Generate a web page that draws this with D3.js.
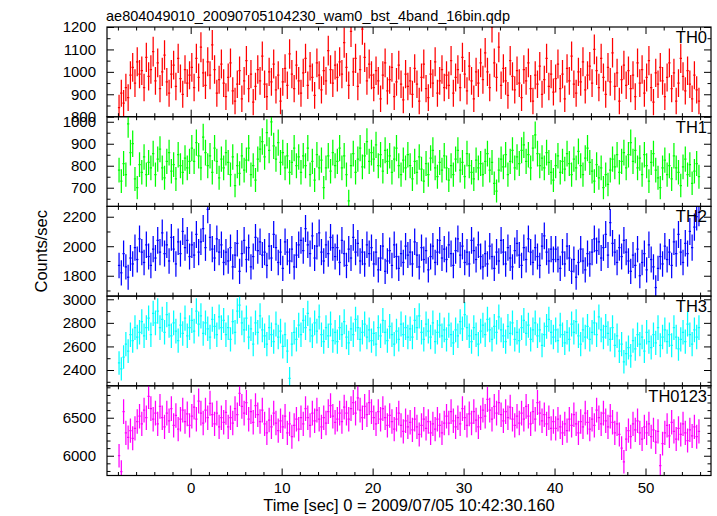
<!DOCTYPE html>
<html><head><meta charset="utf-8">
<script src="https://cdn.jsdelivr.net/npm/d3@7"></script>
<style>
body{margin:0;background:#fff;}
svg{display:block;}
text{font-family:"Liberation Sans",Arial,Helvetica,sans-serif;fill:#000;}
</style></head><body>
<svg id="chart" width="717" height="516"></svg>
<script>
// ---- data (0.25 s bins, starting at t = -8 s) ----
const binSize = 0.25;
const tStart = -8;
const th0 = [
840,905,860,930,885,985,1020,950,1045,990,1005,930,1065,980,1010,1090,
960,1040,925,1000,1075,955,905,990,1030,935,1060,970,900,1010,950,985,
1020,930,1060,975,1110,995,940,1045,985,1120,1010,905,965,1035,950,890,
975,1040,915,870,945,1005,880,960,1050,925,990,865,935,1010,960,1070,
945,890,1000,955,1035,920,985,870,955,1015,940,1080,990,925,1030,960,
905,995,1060,940,1025,975,895,1040,985,920,1005,960,1095,1010,950,1030,
975,1045,990,1130,1020,940,1180,1000,1060,935,1010,1190,1065,960,1035,985,
930,1005,960,880,985,1040,915,965,1020,890,955,1030,945,875,990,935,
960,900,1015,945,870,975,1035,925,885,990,950,1045,905,960,1010,930,
985,940,1050,905,975,1010,930,1065,990,915,1025,960,880,1000,950,1040,
965,1085,1000,930,1200,1040,975,1110,940,1015,960,895,1050,980,920,1005,
950,885,1010,960,1040,925,870,985,945,1025,900,965,1060,935,990,910,
970,1035,925,990,880,1015,960,1070,945,905,1000,955,1045,920,985,1025,
950,1100,1005,930,1060,975,900,1020,955,1085,935,995,870,965,1030,940,
1005,925,985,890,1040,950,1010,905,975,1050,930,865,995,945,1020,960,
890,975,1040,925,995,870,950,1060,980,915,1005,945,880,985,920,870];
const th1 = [
780,730,810,760,990,860,900,740,700,805,770,840,760,815,790,855,
760,830,875,790,745,820,860,775,805,740,850,800,770,835,790,820,
880,820,905,845,790,930,860,800,845,770,880,820,745,830,790,860,
815,760,840,710,800,765,845,780,825,880,760,800,735,830,875,910,
840,950,870,1000,890,830,905,815,860,790,845,770,815,880,800,840,
770,845,800,880,760,820,735,850,790,825,700,790,845,775,860,800,
820,880,790,845,760,640,800,855,770,830,880,795,845,910,820,860,
830,895,800,850,775,870,820,845,770,830,880,800,760,825,790,850,
800,740,820,770,840,785,730,810,760,835,870,790,750,815,780,845,
790,735,800,760,830,870,780,815,750,855,800,770,740,825,790,810,
760,820,855,780,815,720,685,780,830,795,850,760,820,870,790,840,
810,870,895,820,850,790,880,940,855,800,835,790,860,815,770,735,
800,845,770,820,785,855,810,760,830,790,865,800,760,835,880,815,
775,730,805,745,790,700,760,715,780,830,795,850,770,820,860,790,
850,905,820,870,790,835,760,850,800,730,815,855,780,745,700,790,
825,760,800,740,845,790,770,710,795,830,760,805,720,775,810,750];
const th2 = [
1870,1820,1950,1860,1790,1920,1880,1990,1910,2050,1960,1890,2010,1930,1870,1980,
1920,2040,1960,2090,1950,2010,1900,2060,1980,1880,2030,1950,2100,1990,2040,1930,
2010,1940,2080,1960,2030,2120,1990,2250,2060,1980,1920,2050,1960,2010,1890,1960,
1900,1990,1860,1940,2020,1830,1950,2040,1910,1990,1860,1930,2060,1970,2030,1940,
1960,1870,2000,1920,2080,1990,1890,1960,1850,2030,1960,1900,1980,1860,1940,2010,
2040,1970,2120,2010,1950,2070,1920,2000,2090,1960,1900,2010,1950,2060,1990,1930,
1990,1890,2040,1950,1870,1980,1920,2060,1960,2020,1900,1960,1880,2010,1950,1990,
1880,1960,1840,1920,2000,1830,1900,1970,1870,2010,1930,1850,1950,1890,2000,1940,
1960,1880,2030,1940,1860,1990,1910,1970,1840,1930,2000,1890,1960,2040,1920,1980,
1910,2010,1950,1870,1970,2050,1940,2000,1890,1960,1880,2040,1970,1910,2010,1930,
1860,1950,1880,2000,1930,1850,1960,1900,2040,1960,1880,1990,1920,1860,1970,2020,
1940,1870,1990,1910,2050,1960,1890,1990,1930,1870,2000,2070,1960,1900,1980,1910,
1980,1910,1850,1960,1880,2000,1920,1830,1910,1790,1890,1980,1900,1840,1950,1880,
1960,2050,1970,2030,1920,1990,2080,1940,2160,2020,1960,1890,1990,1930,2040,1960,
1900,1830,1940,1870,1980,1800,1890,1950,1840,2010,1910,1860,1720,1850,1930,1880,
2000,1910,1960,1870,2030,1950,2080,1960,1890,2020,1950,2100,1990,2130,2200,2230];
const th3 = [
2460,2410,2510,2620,2560,2700,2650,2760,2680,2720,2810,2690,2760,2840,2700,2880,
2800,2900,2760,2830,2720,2870,2780,2690,2800,2730,2650,2780,2710,2840,2690,2760,
2820,2730,2900,2790,2860,2710,2800,2750,2680,2830,2770,2700,2850,2760,2820,2700,
2760,2660,2810,2720,2900,2950,2800,2740,2840,2680,2750,2620,2800,2720,2860,2740,
2690,2620,2760,2700,2640,2790,2680,2730,2600,2700,2560,2330,2620,2720,2660,2780,
2700,2820,2760,2880,2740,2690,2800,2730,2850,2700,2640,2760,2690,2790,2650,2720,
2640,2760,2700,2810,2680,2630,2750,2700,2830,2760,2660,2720,2790,2680,2740,2650,
2710,2620,2760,2690,2820,2720,2650,2770,2700,2620,2730,2660,2790,2700,2760,2680,
2750,2680,2820,2760,2860,2720,2660,2790,2730,2680,2800,2640,2720,2780,2690,2740,
2660,2780,2700,2630,2740,2690,2810,2750,2870,2760,2690,2640,2760,2700,2620,2730,
2780,2700,2830,2740,2660,2770,2720,2850,2740,2690,2640,2770,2710,2800,2660,2720,
2650,2760,2820,2710,2780,2660,2740,2800,2690,2740,2610,2700,2770,2830,2720,2680,
2740,2650,2780,2700,2630,2720,2660,2790,2720,2810,2690,2620,2740,2680,2770,2660,
2720,2800,2700,2850,2740,2680,2770,2710,2660,2760,2610,2690,2560,2620,2470,2540,
2590,2520,2650,2580,2700,2620,2680,2560,2720,2640,2590,2700,2630,2760,2610,2680,
2740,2640,2700,2610,2760,2680,2580,2660,2720,2640,2790,2700,2620,2740,2680,2760];
const th0123 = [
6000,5790,6580,6300,6240,6330,6230,6360,6450,6520,6420,6600,6500,6780,6620,6480,
6560,6420,6650,6500,6380,6560,6460,6620,6400,6530,6350,6480,6600,6450,6550,6400,
6520,6640,6480,6720,6560,6430,6600,6500,6690,6540,6420,6560,6380,6500,6440,6570,
6380,6500,6430,6620,6540,6820,6650,6560,6700,6480,6580,6440,6660,6540,6450,6600,
6420,6300,6470,6380,6560,6430,6330,6460,6380,6520,6300,6420,6250,6400,6480,6350,
6500,6420,6620,6500,6400,6560,6460,6600,6480,6380,6500,6430,6580,6660,6520,6440,
6480,6560,6450,6640,6560,6480,6620,6700,6560,6760,6600,6500,6650,6540,6700,6580,
6500,6420,6580,6480,6620,6500,6400,6530,6450,6350,6480,6560,6400,6320,6460,6380,
6440,6340,6480,6380,6280,6400,6480,6360,6450,6300,6420,6350,6480,6400,6300,6430,
6520,6430,6580,6460,6380,6500,6420,6620,6500,6400,6550,6430,6580,6470,6380,6500,
6600,6520,6740,6600,6480,6650,6560,6700,6540,6460,6580,6500,6640,6480,6400,6520,
6430,6560,6480,6650,6520,6420,6580,6480,6700,6560,6460,6540,6420,6500,6360,6450,
6360,6480,6380,6300,6420,6330,6480,6400,6540,6420,6300,6450,6380,6560,6440,6350,
6480,6400,6600,6500,6420,6560,6460,6380,6520,6440,6300,6420,6280,6100,5920,6220,
6330,6250,6420,6340,6460,6300,6220,6380,6300,6420,6250,6340,6180,6320,5870,6160,
6300,6400,6260,6440,6320,6220,6360,6280,6420,6300,6200,6340,6260,6380,6250,6320];

const panelNames = ["TH0","TH1","TH2","TH3","TH0123"];
const series = [th0, th1, th2, th3, th0123];
const yRanges = [[800,1200],[615,1023],[1662,2270],[2266,3027],[5740,6920]];
const yMajor = [[800,900,1000,1100,1200],[700,800,900,1000],[1800,2000,2200],[2400,2600,2800,3000],[6000,6500]];
const yMinorStep = [50,50,100,100,100];
const xRange = [-9.2, 57.2];
const xMajor = [0,10,20,30,40,50];
const xTitle = "Time [sec] 0 = 2009/07/05 10:42:30.160";
const yTitle = "Counts/sec";
const plotTitle = "ae804049010_20090705104230_wam0_bst_4band_16bin.qdp";
const colors = ["#ff0000","#00ff00","#0000ff","#00ffff","#ff00ff"];

// ---- layout ----
const L = 107, R = 711, T = 27, B = 475.5;
const nP = 5, pH = (B - T) / nP;
const svg = d3.select("#chart");
const x = d3.scaleLinear().domain(xRange).range([L, R]);
const xMinor = d3.range(-8, 57, 2).filter(v => !xMajor.includes(v));

const defs = svg.append("defs");

series.forEach((vals, p) => {
  const top = T + p * pH, bot = top + pH;
  const y = d3.scaleLinear().domain(yRanges[p]).range([bot, top]);
  const g = svg.append("g");
  defs.append("clipPath").attr("id", "clip" + p)
    .append("rect").attr("x", L).attr("y", top).attr("width", R - L).attr("height", pH);
  const data = vals.map((v, i) => ({t: tStart + binSize * (i + 0.5), v, e: Math.sqrt(v * binSize) / binSize}));
  const dg = g.append("g").attr("clip-path", `url(#clip${p})`)
    .attr("stroke", colors[p]).attr("stroke-width", 1.25).attr("fill", "none");
  dg.selectAll("line.h").data(data).join("line").attr("class","h")
    .attr("x1", d => x(d.t - binSize / 2)).attr("x2", d => x(d.t + binSize / 2))
    .attr("y1", d => y(d.v)).attr("y2", d => y(d.v));
  dg.selectAll("line.v").data(data).join("line").attr("class","v")
    .attr("x1", d => x(d.t)).attr("x2", d => x(d.t))
    .attr("y1", d => y(d.v - d.e)).attr("y2", d => y(d.v + d.e));

  // y axes
  const [y0, y1] = yRanges[p];
  const minor = d3.range(Math.ceil(y0 / yMinorStep[p]) * yMinorStep[p], y1 + 0.001, yMinorStep[p])
    .filter(v => !yMajor[p].includes(v));
  g.append("g").attr("transform", `translate(${L},0)`)
    .call(d3.axisLeft(y).tickValues(yMajor[p]).tickSizeInner(-7).tickSizeOuter(0).tickPadding(11).tickFormat(d3.format("d")));
  g.append("g").attr("transform", `translate(${L},0)`)
    .call(d3.axisLeft(y).tickValues(minor).tickSizeInner(-3.5).tickSizeOuter(0).tickFormat(""));
  g.append("g").attr("transform", `translate(${R},0)`)
    .call(d3.axisRight(y).tickValues(yMajor[p]).tickSizeInner(-7).tickSizeOuter(0).tickFormat(""));
  g.append("g").attr("transform", `translate(${R},0)`)
    .call(d3.axisRight(y).tickValues(minor).tickSizeInner(-3.5).tickSizeOuter(0).tickFormat(""));
  // x axes top & bottom
  g.append("g").attr("transform", `translate(0,${bot})`)
    .call(d3.axisBottom(x).tickValues(xMajor).tickSizeInner(-7).tickSizeOuter(0).tickPadding(7)
      .tickFormat(p === nP - 1 ? d3.format("d") : ""));
  g.append("g").attr("transform", `translate(0,${bot})`)
    .call(d3.axisBottom(x).tickValues(xMinor).tickSizeInner(-3.5).tickSizeOuter(0).tickFormat(""));
  g.append("g").attr("transform", `translate(0,${top})`)
    .call(d3.axisTop(x).tickValues(xMajor).tickSizeInner(-7).tickSizeOuter(0).tickFormat(""));
  g.append("g").attr("transform", `translate(0,${top})`)
    .call(d3.axisTop(x).tickValues(xMinor).tickSizeInner(-3.5).tickSizeOuter(0).tickFormat(""));
  g.selectAll(".domain").remove();
  g.selectAll(".tick line").attr("stroke", "#000").attr("stroke-width", 1);
  g.selectAll(".tick text").style("font-size", "15px").style("font-family", '"Liberation Sans",Arial,sans-serif');
  // frame
  g.append("rect").attr("x", L).attr("y", top).attr("width", R - L).attr("height", pH)
    .attr("fill", "none").attr("stroke", "#000").attr("stroke-width", 1.2);
  g.append("text").attr("x", R - 4).attr("y", top + 16).attr("text-anchor", "end")
    .style("font-size", "16.5px").text(panelNames[p]);
});

svg.append("text").attr("x", L - 1).attr("y", 20.5).style("font-size", "14.5px").text(plotTitle);
svg.append("text").attr("x", (L + R) / 2).attr("y", 511).attr("text-anchor", "middle")
  .style("font-size", "16.5px").text(xTitle);
svg.append("text").attr("transform", `translate(47,${(T + B) / 2}) rotate(-90)`)
  .attr("text-anchor", "middle").style("font-size", "16.5px").text(yTitle);
</script>
</body></html>
